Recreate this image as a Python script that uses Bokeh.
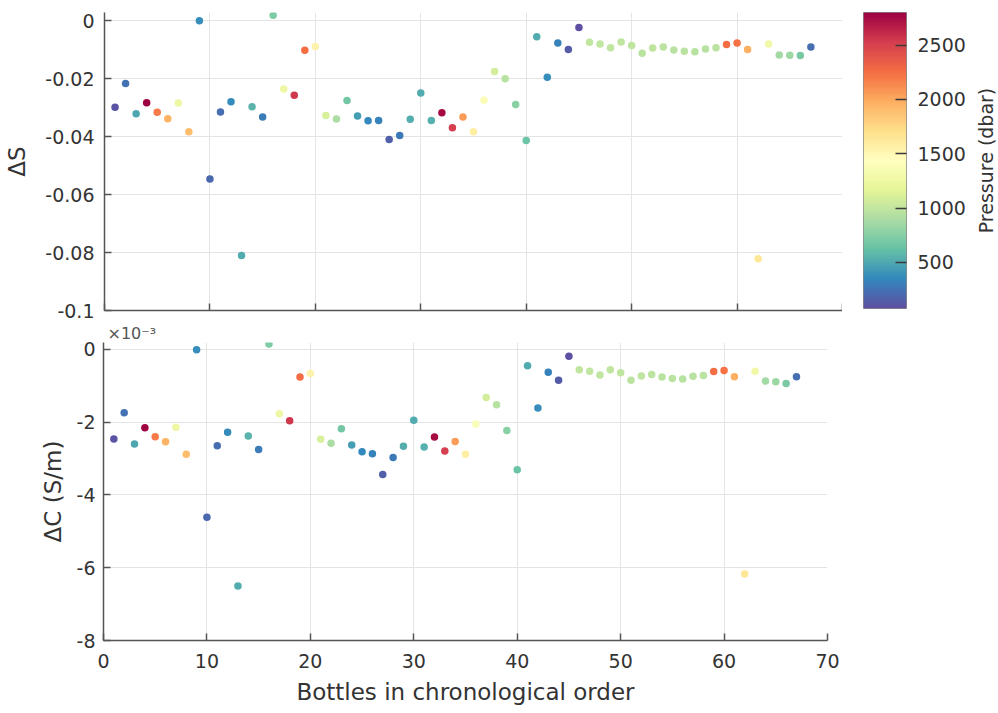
import numpy as np
from bokeh.plotting import figure
from bokeh.layouts import column, row
from bokeh.models import (ColumnDataSource, LinearColorMapper, FixedTicker,
                          CustomJSTickFormatter, Label, Range1d, Title)
from bokeh.palettes import Spectral11
from bokeh.transform import transform
from bokeh.embed import file_html
from bokeh.resources import INLINE

# ---------------- data ----------------
bottles = list(range(1, 68))

dS = [-0.0298, -0.0216, -0.0321, -0.0283, -0.0316, -0.0338, -0.0284, -0.0383, 0.0000, -0.0546,
      -0.0315, -0.0279, -0.0810, -0.0297, -0.0332, 0.0019, -0.0235, -0.0257, -0.0102, -0.0089,
      -0.0327, -0.0339, -0.0275, -0.0329, -0.0345, -0.0344, -0.0410, -0.0396, -0.0340, -0.0249,
      -0.0344, -0.0317, -0.0369, -0.0332, -0.0383, -0.0274, -0.0175, -0.0200, -0.0289, -0.0413,
      -0.0055, -0.0195, -0.0077, -0.0099, -0.0023, -0.0074, -0.0080, -0.0093, -0.0073, -0.0085,
      -0.0112, -0.0094, -0.0090, -0.0101, -0.0105, -0.0107, -0.0097, -0.0093, -0.0082, -0.0077,
      -0.0099, -0.0821, -0.0080, -0.0118, -0.0119, -0.0120, -0.0090]

# conductivity difference in units of 1e-3 S/m
dC_e3 = [-2.46, -1.74, -2.60, -2.15, -2.40, -2.54, -2.14, -2.88, -0.01, -4.61,
         -2.65, -2.28, -6.50, -2.38, -2.75, 0.15, -1.77, -1.96, -0.76, -0.66,
         -2.47, -2.58, -2.18, -2.63, -2.81, -2.87, -3.44, -2.97, -2.66, -1.95,
         -2.68, -2.41, -2.79, -2.53, -2.88, -2.05, -1.32, -1.52, -2.23, -3.31,
         -0.45, -1.61, -0.63, -0.85, -0.19, -0.56, -0.60, -0.70, -0.56, -0.64,
         -0.85, -0.73, -0.69, -0.76, -0.80, -0.81, -0.74, -0.72, -0.61, -0.58,
         -0.75, -6.17, -0.60, -0.87, -0.89, -0.94, -0.75]

pressure = [100, 250, 500, 2800, 2200, 1950, 1250, 1900, 380, 200,
            230, 370, 520, 560, 290, 720, 1250, 2550, 2250, 1550,
            1100, 900, 680, 450, 360, 320, 150, 280, 530, 520,
            540, 2750, 2520, 2050, 1580, 1380, 1080, 950, 760, 640,
            520, 380, 320, 140, 75, 1000, 1000, 990, 980, 990,
            960, 980, 970, 960, 960, 950, 950, 960, 2250, 2230,
            1980, 1650, 1280, 860, 840, 700, 230]

x_ticks = [0, 10, 20, 30, 40, 50, 60, 70]
s_ticks = [0, -0.02, -0.04, -0.06, -0.08, -0.1]
c_ticks_e3 = [0, -2, -4, -6, -8]
p_ticks = [500, 1000, 1500, 2000, 2500]

dC = [v * 1e-3 for v in dC_e3]

# ---------------- style ----------------
FONT = "DejaVu Sans"
TXT = "#333333"
AX = "#555555"
GRID = "#e4e4e4"
TICK_FS = "19px"
LAB_FS = "23px"

base = list(Spectral11)  # purple (low) -> dark red (high)
rgb = np.array([[int(c[i:i + 2], 16) for i in (1, 3, 5)] for c in base], float)
t = np.linspace(0, 1, len(base))
tt = np.linspace(0, 1, 256)
pal = ['#%02x%02x%02x' % tuple(int(round(np.interp(v, t, rgb[:, k]))) for k in range(3)) for v in tt]

pmin, pmax = min(pressure), max(pressure)
mapper = LinearColorMapper(palette=pal, low=pmin, high=pmax)
src = ColumnDataSource(dict(b=bottles, dS=dS, dC=dC, p=pressure))


def style(p):
    p.outline_line_color = None
    p.background_fill_color = "white"
    p.border_fill_color = "white"
    for ax in p.axis:
        ax.axis_line_color = AX
        ax.axis_line_width = 1.5
        ax.major_tick_line_color = AX
        ax.major_tick_line_width = 1.5
        ax.major_tick_in = 7
        ax.major_tick_out = 0
        ax.minor_tick_line_color = None
        ax.major_label_text_font = FONT
        ax.major_label_text_font_size = TICK_FS
        ax.major_label_text_color = TXT
        ax.axis_label_text_font = FONT
        ax.axis_label_text_font_size = LAB_FS
        ax.axis_label_text_font_style = "normal"
        ax.axis_label_text_color = TXT
    p.grid.grid_line_color = GRID
    p.grid.grid_line_width = 1


# ---------------- top panel: delta S ----------------
p1 = figure(frame_width=738, frame_height=298,
            x_range=Range1d(0, 70), y_range=Range1d(-0.1, 0.00287),
            min_border_left=104, min_border_right=0, min_border_top=8, min_border_bottom=15,
            output_backend="svg", toolbar_location=None)
style(p1)
p1.xaxis.ticker = FixedTicker(ticks=x_ticks)
p1.xaxis.formatter = CustomJSTickFormatter(code="return '';")
p1.xaxis.major_label_standoff = 0
p1.yaxis.ticker = FixedTicker(ticks=s_ticks)
p1.yaxis.formatter = CustomJSTickFormatter(
    code="if (Math.abs(tick) < 1e-12) return '0'; return tick.toFixed(2).replace(/0$/, '');")
p1.yaxis.axis_label = "ΔS"
p1.yaxis.major_label_standoff = 10
p1.yaxis.axis_label_standoff = 12
p1.scatter("b", "dS", source=src, size=7.5,
           fill_color=transform("p", mapper), line_color=None)

# ---------------- colorbar ----------------
pc = figure(frame_width=43, frame_height=296,
            x_range=Range1d(0, 1), y_range=Range1d(pmin, pmax),
            x_axis_location=None, y_axis_location="right",
            min_border_left=21, min_border_right=62, min_border_top=12, min_border_bottom=13,
            output_backend="svg", toolbar_location=None)
pc.grid.visible = False
pc.outline_line_color = "#8a8a8a"
pc.outline_line_width = 1
pc.image(image=[np.linspace(pmin, pmax, 256).reshape(-1, 1)], x=0, y=pmin,
         dw=1, dh=pmax - pmin, color_mapper=mapper)
ya = pc.yaxis[0]
ya.ticker = FixedTicker(ticks=p_ticks)
ya.axis_line_color = None
ya.major_tick_in = 11
ya.major_tick_out = 0
ya.major_tick_line_color = "#3a3a3a"
ya.major_tick_line_width = 1.5
ya.minor_tick_line_color = None
ya.major_label_standoff = 11
ya.major_label_text_font = FONT
ya.major_label_text_font_size = TICK_FS
ya.major_label_text_color = TXT

# colorbar title (vertical, reading bottom to top)
pt = figure(frame_width=26, frame_height=296,
            x_range=Range1d(0, 1), y_range=Range1d(0, 1),
            x_axis_location=None, y_axis_location=None,
            min_border_left=4, min_border_right=0, min_border_top=12, min_border_bottom=13,
            output_backend="svg", toolbar_location=None)
pt.grid.visible = False
pt.outline_line_color = None
pt.add_layout(Label(x=0.5, y=0.5, text="Pressure (dbar)",
                    angle=np.pi / 2, text_align="center", text_baseline="middle",
                    text_font=FONT, text_font_size="19px", text_color=TXT))

# ---------------- bottom panel: delta C ----------------
p2 = figure(frame_width=724, frame_height=298,
            x_range=Range1d(0, 70), y_range=Range1d(-0.008, 0.00019),
            min_border_left=103, min_border_right=20, min_border_top=19, min_border_bottom=66,
            output_backend="svg", toolbar_location=None)
style(p2)
p2.xaxis.ticker = FixedTicker(ticks=x_ticks)
p2.xaxis.axis_label = "Bottles in chronological order"
p2.xaxis.major_label_standoff = 13
p2.xaxis.axis_label_standoff = 8
p2.yaxis.ticker = FixedTicker(ticks=[v * 1e-3 for v in c_ticks_e3])
p2.yaxis.formatter = CustomJSTickFormatter(code="return String(Math.round(tick * 1e3));")
p2.yaxis.axis_label = "ΔC (S/m)"
p2.yaxis.major_label_standoff = 8
p2.yaxis.axis_label_standoff = 8
p2.scatter("b", "dC", source=src, size=7.5,
           fill_color=transform("p", mapper), line_color=None)
p2.add_layout(Title(text="×10⁻³", align="left", offset=4, standoff=0,
                    text_font=FONT, text_font_size="16px", text_font_style="normal",
                    text_color="#555555"), "above")

layout = column(row(p1, pc, pt), p2)
open("out.html", "w").write(file_html(layout, INLINE))
